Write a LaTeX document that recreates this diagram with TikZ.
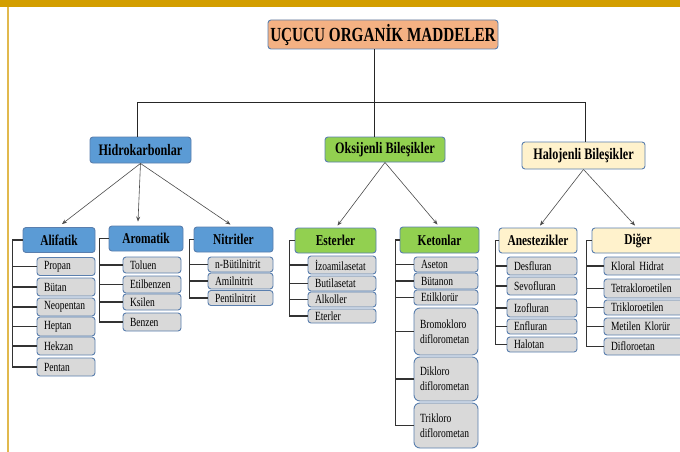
\documentclass[tikz,border=0pt]{standalone}
\usepackage{fontspec}
\setmainfont{Liberation Serif}[FakeStretch=0.76]
\usetikzlibrary{calc,arrows.meta}
\definecolor{bordc}{HTML}{5A7FAE}
\definecolor{titlec}{HTML}{F4B183}
\definecolor{hkc}{HTML}{5B9BD5}
\definecolor{oxc}{HTML}{92D050}
\definecolor{hlc}{HTML}{FFF2CC}
\definecolor{leafc}{HTML}{D9D9D9}
\definecolor{topc}{HTML}{D39E00}
\definecolor{leftc}{HTML}{E1B94E}
\begin{document}
\begin{tikzpicture}[x=1pt,y=-1pt,
  box/.style={draw=bordc, line width=0.9pt, rounded corners=3pt, inner sep=0pt, align=center, text=black},
  lvlzero/.style={box, fill=titlec, font=\bfseries\fontsize{20}{22}\selectfont},
  lvlone/.style={box, font=\bfseries\fontsize{16}{18}\selectfont},
  lvltwo/.style={box, font=\bfseries\fontsize{15}{17}\selectfont},
  leaf/.style={box, fill=leafc, font=\fontsize{12.5}{15}\selectfont, text width=#1, align=left, inner xsep=7pt},
  bigleaf/.style={leaf=#1, rounded corners=6pt, inner xsep=6pt},
  conn/.style={draw=black!85, line width=1pt},
  br/.style={draw=black!80, line width=1.1pt},
  arr/.style={draw=black!70, line width=0.6pt, -{Stealth[length=5pt,width=4pt]}}
]
\clip (0,0) rectangle (680,452);
\fill[white] (0,0) rectangle (680,452);
\fill[topc] (0,0) rectangle (680,7);
\fill[leftc] (7.3,7) rectangle (9,452);

% title and level 1
\node[lvlzero, minimum width=230, minimum height=29] (title) at (383,34.5) {UÇUCU ORGANİK MADDELER};
\node[lvlone, fill=hkc, minimum width=101, minimum height=26] (hk) at (140.5,150) {Hidrokarbonlar};
\node[lvlone, fill=oxc, minimum width=120, minimum height=25] (ox) at (385,149.5) {Oksijenli Bileşikler};
\node[lvlone, fill=hlc, minimum width=123, minimum height=27] (hl) at (583.5,155.5) {Halojenli Bileşikler};

\coordinate (hb) at (374,102);
\coordinate (hbL) at (137,102);
\coordinate (hbR) at (585,102);
\draw[conn] (title.south -| hb) -- (hb);
\draw[conn] (hbL) -- (hbR);
\draw[conn] (hbL) -- (hbL |- hk.north);
\draw[conn] (hb) -- (hb |- ox.north);
\draw[conn] (hbR) -- (hbR |- hl.north);

% level 2
\node[lvltwo, fill=hkc, minimum width=72, minimum height=25] (al) at (59,240) {Alifatik};
\node[lvltwo, fill=hkc, minimum width=74, minimum height=25] (ar) at (146,238.5) {Aromatik};
\node[lvltwo, fill=hkc, minimum width=79, minimum height=25] (ni) at (233.5,239.5) {Nitritler};
\node[lvltwo, fill=oxc, minimum width=81, minimum height=25] (es) at (335.5,240.5) {Esterler};
\node[lvltwo, fill=oxc, minimum width=79, minimum height=26] (ke) at (439.5,240) {Ketonlar};
\node[lvltwo, fill=hlc, minimum width=78, minimum height=25] (an) at (538,240.5) {Anestezikler};
\node[lvltwo, fill=hlc, minimum width=92, minimum height=25] (dg) at (638,240.5) {Diğer};

\draw[arr] (hk.south) -- ($(al.north)+(3,-3)$);
\draw[arr] (hk.south) -- ($(ar.north)+(-8,-4)$);
\draw[arr] (hk.south) -- ($(ni.north)+(-3,-2)$);
\draw[arr] (ox.south) -- ($(es.north)+(2,-2)$);
\draw[arr] (ox.south) -- ($(ke.north)+(-2,-2)$);
\draw[arr] (hl.south) -- ($(an.north)+(2,-2)$);
\draw[arr] (hl.south) -- ($(dg.north)+(-3,-2)$);

% Alifatik
\node[leaf=44, minimum height=18] (al1) at (66,266.5) {Propan};
\node[leaf=44, minimum height=18] (al2) at (66,287) {Bütan};
\node[leaf=44, minimum height=18] (al3) at (66,307) {Neopentan};
\node[leaf=44, minimum height=19] (al4) at (66,326.5) {Heptan};
\node[leaf=44, minimum height=18] (al5) at (66,346) {Hekzan};
\node[leaf=44, minimum height=18] (al6) at (66,367) {Pentan};
\draw[br] (al.west) -| ($(al6.west)+(-24,0)$) -- (al6.west);
\foreach \n in {al1,al2,al3,al4,al5} \draw[br] (\n.west) -- ++(-24,0);

% Aromatik
\node[leaf=44, minimum height=16] (ar1) at (152,265) {Toluen};
\node[leaf=44, minimum height=17] (ar2) at (152,284.5) {Etilbenzen};
\node[leaf=44, minimum height=16] (ar3) at (152,302) {Ksilen};
\node[leaf=44, minimum height=18] (ar4) at (152,322) {Benzen};
\draw[br] (ar.west) -| ($(ar4.west)+(-23,0)$) -- (ar4.west);
\foreach \n in {ar1,ar2,ar3} \draw[br] (\n.west) -- ++(-23,0);

% Nitritler
\node[leaf=51, minimum height=15] (ni1) at (240.5,264.5) {n-Bütilnitrit};
\node[leaf=51, minimum height=16] (ni2) at (240.5,281) {Amilnitrit};
\node[leaf=51, minimum height=15] (ni3) at (240.5,298) {Pentilnitrit};
\draw[br] (ni.west) -| ($(ni3.west)+(-18,0)$) -- (ni3.west);
\foreach \n in {ni1,ni2} \draw[br] (\n.west) -- ++(-18,0);

% Esterler
\node[leaf=54, minimum height=18] (es1) at (342,265) {İzoamilasetat};
\node[leaf=54, minimum height=15] (es2) at (342,283.5) {Butilasetat};
\node[leaf=54, minimum height=15] (es3) at (342,299.5) {Alkoller};
\node[leaf=54, minimum height=14] (es4) at (342,316) {Eterler};
\draw[br] (es.west) -| ($(es4.west)+(-18,0)$) -- (es4.west);
\foreach \n in {es1,es2,es3} \draw[br] (\n.west) -- ++(-18,0);

% Ketonlar
\node[leaf=50, minimum height=15] (ke1) at (446,264.5) {Aseton};
\node[leaf=50, minimum height=16] (ke2) at (446,281) {Bütanon};
\node[leaf=50, minimum height=15] (ke3) at (446,297.5) {Etilklorür};
\node[bigleaf=52, minimum height=47] (ke4) at (446,331.5) {Bromokloro\\diflorometan};
\node[bigleaf=52, minimum height=44] (ke5) at (446,379) {Dikloro\\diflorometan};
\node[bigleaf=52, minimum height=45] (ke6) at (446,425.5) {Trikloro\\diflorometan};
\draw[br] (ke.west) -| ($(ke6.west)+(-18,0)$) -- (ke6.west);
\foreach \n in {ke1,ke2,ke3,ke4,ke5} \draw[br] (\n.west) -- ++(-18,0);

% Anestezikler
\node[leaf=56, minimum height=18] (an1) at (542,266) {Desfluran};
\node[leaf=56, minimum height=18] (an2) at (542,286) {Sevofluran};
\node[leaf=56, minimum height=18] (an3) at (542,308) {Izofluran};
\node[leaf=56, minimum height=15] (an4) at (542,326.5) {Enfluran};
\node[leaf=56, minimum height=15] (an5) at (542,344.5) {Halotan};
\draw[br] (an.west) -| ($(an5.west)+(-11,0)$) -- (an5.west);
\foreach \n in {an1,an2,an3,an4} \draw[br] (\n.west) -- ++(-11,0);

% Diger
\node[leaf=68, minimum height=18] (dg1) at (645,266) {Kloral Hidrat};
\node[leaf=68, minimum height=19] (dg2) at (645,288.5) {Tetrakloroetilen};
\node[leaf=68, minimum height=15] (dg3) at (645,307.5) {Trikloroetilen};
\node[leaf=68, minimum height=17] (dg4) at (645,326.5) {Metilen Klorür};
\node[leaf=68, minimum height=17] (dg5) at (645,346.5) {Difloroetan};
\draw[br] (dg.west) -| ($(dg5.west)+(-17,0)$) -- (dg5.west);
\foreach \n in {dg1,dg2,dg3,dg4} \draw[br] (\n.west) -- ++(-17,0);
\end{tikzpicture}
\end{document}
